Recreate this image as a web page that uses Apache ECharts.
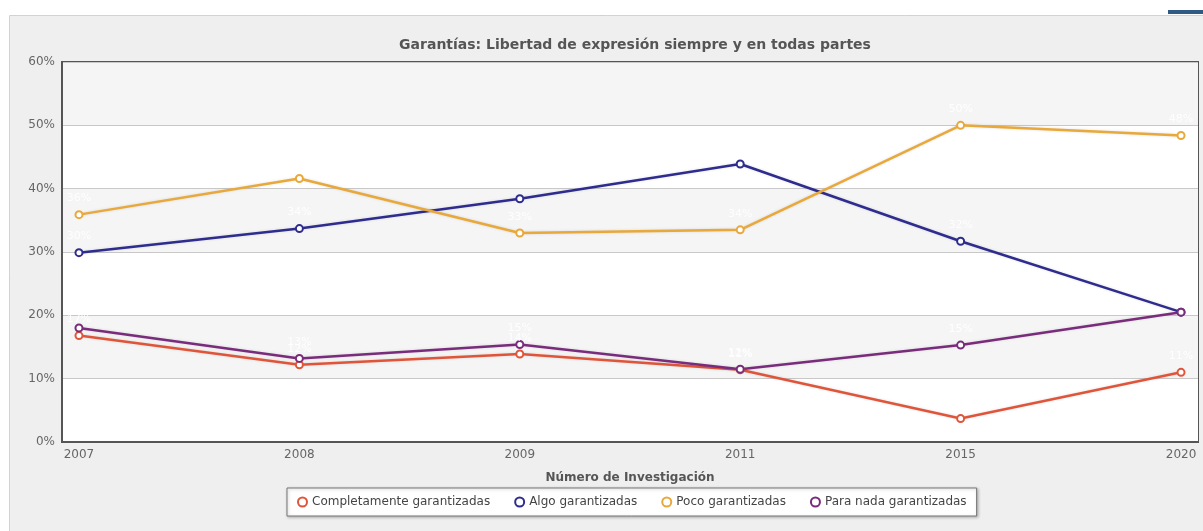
<!DOCTYPE html>
<html>
<head>
<meta charset="utf-8">
<script src="https://cdn.jsdelivr.net/npm/echarts@6/dist/echarts.min.js"></script>
<style>
html,body{margin:0;padding:0;background:#fff;}
#chart{width:1203px;height:531px;}
</style>
</head>
<body>
<div id="chart"></div>
<script>
const years = ['2007', '2008', '2009', '2011', '2015', '2020'];
const completamente = [16.8, 12.2, 13.9, 11.4, 3.7, 11.0];
const algo = [29.9, 33.7, 38.4, 43.9, 31.7, 20.5];
const poco = [35.9, 41.6, 33.0, 33.5, 50.0, 48.4];
const paraNada = [18.0, 13.2, 15.4, 11.5, 15.3, 20.5];
const seriesNames = ['Completamente garantizadas', 'Algo garantizadas', 'Poco garantizadas', 'Para nada garantizadas'];
const seriesColors = ['#e0553a', '#2e2c8e', '#e9a83a', '#7a2c7c'];
const yTicks = [0, 10, 20, 30, 40, 50, 60];

const allSeries = [completamente, algo, poco, paraNada];
const FONT = 'DejaVu Sans';

const chart = echarts.init(document.getElementById('chart'), null, {renderer: 'canvas'});
chart.setOption({
  backgroundColor: '#ffffff',
  animation: false,
  graphic: [
    {type: 'rect', z: -10, silent: true, shape: {x: 9.5, y: 15.5, width: 1200, height: 520},
     style: {fill: '#efefef', stroke: '#d2d2d2', lineWidth: 1}},
    {type: 'rect', z: -9, silent: true, shape: {x: 1168, y: 10, width: 35, height: 4},
     style: {fill: '#2f5a86'}}
  ],
  title: {
    text: 'Garantías: Libertad de expresión siempre y en todas partes',
    left: 630, top: 33, textAlign: 'center',
    textStyle: {fontFamily: FONT, fontSize: 14, fontWeight: 'bold', color: '#555'}
  },
  legend: {
    data: seriesNames,
    left: 287, top: 488,
    icon: 'emptyCircle',
    itemWidth: 9, itemHeight: 9, itemGap: 24,
    padding: [8, 10, 8, 10],
    backgroundColor: '#ffffff',
    borderColor: '#777', borderWidth: 1,
    shadowColor: 'rgba(0,0,0,0.25)', shadowBlur: 3, shadowOffsetX: 1, shadowOffsetY: 1,
    textStyle: {fontFamily: FONT, fontSize: 12, color: '#444'}
  },
  grid: {
    left: 62, right: 5, top: 62, bottom: 89,
    show: true, backgroundColor: '#ffffff', borderColor: '#555', borderWidth: 2
  },
  xAxis: {
    type: 'value',
    min: -0.077, max: 5.077,
    name: 'Número de Investigación',
    nameLocation: 'middle', nameGap: 30,
    nameTextStyle: {fontFamily: FONT, fontSize: 12, fontWeight: 'bold', color: '#555'},
    axisLine: {show: true, onZero: false, lineStyle: {color: '#555', width: 2}},
    axisTick: {show: false},
    splitLine: {show: false},
    axisLabel: {
      customValues: years.map((y, i) => i),
      formatter: v => years[Math.round(v)],
      fontFamily: FONT, fontSize: 12, color: '#666', margin: 7
    }
  },
  yAxis: {
    type: 'value', min: yTicks[0], max: yTicks[yTicks.length - 1], interval: 10,
    axisLine: {show: true, onZero: false, lineStyle: {color: '#555', width: 2}},
    axisTick: {show: false},
    axisLabel: {formatter: '{value}%', fontFamily: FONT, fontSize: 12, color: '#666', margin: 7},
    splitLine: {show: true, lineStyle: {color: '#c8c8c8', width: 1}},
    splitArea: {show: true, areaStyle: {color: ['#ffffff', '#f5f5f5']}}
  },
  series: allSeries.map((vals, si) => ({
    name: seriesNames[si],
    type: 'line',
    data: vals.map((v, i) => [i, v]),
    symbol: 'emptyCircle',
    symbolSize: 7,
    color: seriesColors[si],
    lineStyle: {width: 2.5, color: seriesColors[si], shadowColor: 'rgba(0,0,0,0.12)', shadowBlur: 3},
    itemStyle: {color: seriesColors[si], borderWidth: 1.3, borderColor: seriesColors[si]},
    label: {
      show: true, position: 'top', distance: 6,
      formatter: p => Math.round(p.value[1]) + '%',
      fontFamily: FONT, fontSize: 11,
      color: 'rgba(255,255,255,0.9)'
    }
  }))
});
</script>
</body>
</html>
